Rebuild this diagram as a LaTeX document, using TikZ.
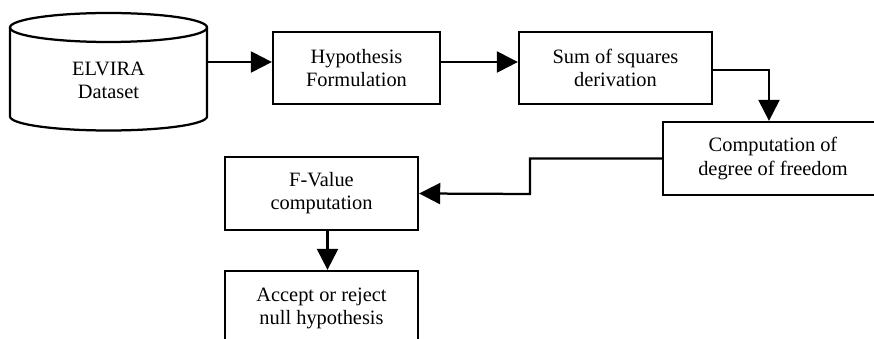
\documentclass[tikz,border=0pt]{standalone}
\usepackage{fontspec}
\setmainfont{Liberation Serif}
\usetikzlibrary{arrows.meta, positioning}

\begin{document}
\begin{tikzpicture}[
    x=0.025cm, y=-0.025cm,
    box/.style={draw, line width=1.6pt, align=center, inner sep=0pt,
      font=\fontsize{14.5}{16.4}\selectfont},
    txt/.style={align=center, inner sep=0pt, font=\fontsize{14.5}{16.4}\selectfont},
    flow/.style={line width=1.6pt, -{Triangle[length=15pt, width=15pt]}},
    >=Stealth
  ]
  \useasboundingbox (0,0) rectangle (874,339);
  \clip (0,0) rectangle (874,339);

  % --- dataset cylinder ---
  \draw[line width=1.6pt] (108.5,27.5) ellipse [x radius=98.5, y radius=14.5];
  \draw[line width=1.6pt] (10,27.5) -- (10,116.5)
    arc[start angle=180, end angle=0, x radius=98.5, y radius=14] -- (207,27.5);
  \node[txt] (data) at (108.5,80.5) {ELVIRA\\Dataset};
  \coordinate (dataout) at (207,62);

  % --- process boxes ---
  \node[box, minimum width=167*0.025cm, minimum height=72*0.025cm] (hyp) at (356.5,68)
    {Hypothesis\\Formulation};
  \node[box, minimum width=193*0.025cm, minimum height=72*0.025cm] (sum) at (615.5,68)
    {Sum of squares\\derivation};
  \node[box, minimum width=220*0.025cm, minimum height=73*0.025cm] (dof) at (773,158.5)
    {Computation of\\degree of freedom};
  \node[box, minimum width=193*0.025cm, minimum height=73*0.025cm] (fval) at (321.5,193.5)
    {F-Value\\computation};
  \node[box, minimum width=193*0.025cm, minimum height=74*0.025cm] (acc) at (321.5,308)
    {Accept or reject\\null hypothesis};

  % --- connectors ---
  \draw[flow] (dataout) -- (dataout -| hyp.west);
  \draw[flow] ([yshift=0.15cm]hyp.east) -- ([yshift=0.15cm]sum.west);
  \draw[flow] ([yshift=-0.05cm]sum.east) -| ([xshift=-0.1cm]dof.north);
  \draw[flow] (dof.west) -- (530,158.5) -- (530,194) -- (fval.east);
  \draw[flow] ([xshift=0.15cm]fval.south) -- ([xshift=0.15cm]acc.north);

\end{tikzpicture}
\end{document}
